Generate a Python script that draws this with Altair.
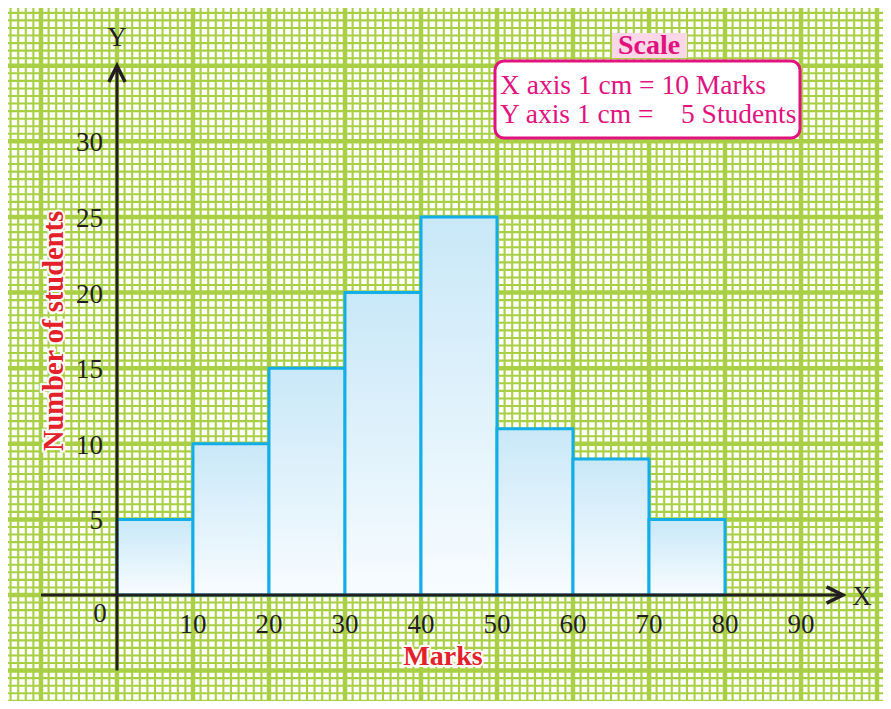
import altair as alt
import pandas as pd

# ---- data ----
bin_start = [0, 10, 20, 30, 40, 50, 60, 70]
bin_end = [10, 20, 30, 40, 50, 60, 70, 80]
students = [5, 10, 15, 20, 25, 11, 9, 5]
x_tick_labels = [10, 20, 30, 40, 50, 60, 70, 80, 90]
y_tick_labels = [5, 10, 15, 20, 25, 30]
scale_lines = ["X axis 1 cm = 10 Marks", "Y axis 1 cm =\u00a0\u00a0\u00a0 5 Students"]

W, H = 875, 693
X_DOM = [-14.34, 100.79]
Y_DOM = [-7.01, 38.82]
xs = alt.Scale(domain=X_DOM, nice=False, zero=False)
ys = alt.Scale(domain=Y_DOM, nice=False, zero=False)

GREEN = "#a9d045"
FONT = "Liberation Serif"
MAG = "#e2127f"
RED = "#e4202a"
INK = "#231f20"
ONE = alt.Data(values=[{"a": 1}])

# graph-paper grid
minor_x = pd.DataFrame({"v": list(range(-14, 101))})
minor_y = pd.DataFrame({"v": [i / 2 for i in range(-14, 78)]})
major_x = pd.DataFrame({"v": list(range(-10, 101, 10))})
major_y = pd.DataFrame({"v": list(range(-5, 39, 5))})

g1 = alt.Chart(minor_x).mark_rule(color=GREEN, strokeWidth=2.1).encode(
    x=alt.X("v:Q", scale=xs, axis=None))
g2 = alt.Chart(minor_y).mark_rule(color=GREEN, strokeWidth=2.1).encode(
    y=alt.Y("v:Q", scale=ys, axis=None))
g3 = alt.Chart(major_x).mark_rule(color=GREEN, strokeWidth=4.5).encode(
    x=alt.X("v:Q", scale=xs, axis=None))
g4 = alt.Chart(major_y).mark_rule(color=GREEN, strokeWidth=4.5).encode(
    y=alt.Y("v:Q", scale=ys, axis=None))

bars_df = pd.DataFrame({"start": bin_start, "end": bin_end, "students": students,
                        "base": [0] * len(students)})
bars = alt.Chart(bars_df).mark_rect(
    fill=alt.Gradient(gradient="linear", x1=0, y1=0, x2=0, y2=1,
                      stops=[alt.GradientStop(color="#c9e8f8", offset=0),
                             alt.GradientStop(color="#f8fcff", offset=1)]),
    stroke="#13ade8", strokeWidth=3,
).encode(
    x=alt.X("start:Q", scale=xs, axis=None), x2="end:Q",
    y=alt.Y("students:Q", scale=ys, axis=None), y2="base:Q",
)

# axis lines with arrows
xaxis_df = pd.DataFrame({"x": [-10], "x2": [95.3], "y": [0]})
yaxis_df = pd.DataFrame({"x": [0], "y": [-5], "y2": [34.8]})
xaxis = alt.Chart(xaxis_df).mark_rule(color=INK, strokeWidth=3).encode(
    x=alt.X("x:Q", scale=xs, axis=None), x2="x2:Q", y=alt.Y("y:Q", scale=ys, axis=None))
yaxis = alt.Chart(yaxis_df).mark_rule(color=INK, strokeWidth=3).encode(
    x=alt.X("x:Q", scale=xs, axis=None), y=alt.Y("y:Q", scale=ys, axis=None), y2="y2:Q")
xarrow = alt.Chart(pd.DataFrame({"x": [95.5], "y": [0]})).mark_point(
    shape="M -1 -0.5 L 0 0 L -1 0.5", size=1050, filled=False,
    stroke=INK, strokeWidth=3.5, opacity=1).encode(
    x=alt.X("x:Q", scale=xs, axis=None), y=alt.Y("y:Q", scale=ys, axis=None))
yarrow = alt.Chart(pd.DataFrame({"x": [0], "y": [35]})).mark_point(
    shape="M -0.5 1 L 0 0 L 0.5 1", size=1050, filled=False,
    stroke=INK, strokeWidth=3.5, opacity=1).encode(
    x=alt.X("x:Q", scale=xs, axis=None), y=alt.Y("y:Q", scale=ys, axis=None))

# tick labels
xt = alt.Chart(pd.DataFrame({"v": x_tick_labels})).mark_text(
    font=FONT, fontSize=27, color=INK, align="center", baseline="middle").encode(
    x=alt.X("v:Q", scale=xs, axis=None), y=alt.value(617), text="v:Q")
yt = alt.Chart(pd.DataFrame({"v": y_tick_labels})).mark_text(
    font=FONT, fontSize=27, color=INK, align="right", baseline="middle", dy=2).encode(
    y=alt.Y("v:Q", scale=ys, axis=None), x=alt.value(95), text="v:Q")

def label(txt, x, y, **kw):
    return alt.Chart(ONE).mark_text(text=txt, font=FONT, align="center",
                                    baseline="middle", **kw).encode(
        x=alt.value(x), y=alt.value(y))

zero = label("0", 92, 606, fontSize=27, color=INK)
xl = label("X", 854, 589, fontSize=27, color=INK)
yl = label("Y", 109, 30, fontSize=27, color=INK)

# axis titles (red, bold, white outline)
xtitle_h = label("Marks", 435, 649, fontSize=28, fontWeight="bold",
                 fill="white", stroke="white", strokeWidth=4)
xtitle = label("Marks", 435, 649, fontSize=28, fontWeight="bold", color=RED)
ytitle_h = label("Number of students", 46, 323, fontSize=28.5, fontWeight="bold",
                 angle=270, fill="white", stroke="white", strokeWidth=4)
ytitle = label("Number of students", 46, 323, fontSize=28.5, fontWeight="bold",
               angle=270, color=RED)

# scale box
pink = alt.Chart(ONE).mark_rect(fill="#fbd8e8").encode(
    x=alt.value(604), x2=alt.value(679), y=alt.value(25), y2=alt.value(50))
scale_t = label("Scale", 641, 38, fontSize=28, fontWeight="bold", color=MAG)
box = alt.Chart(ONE).mark_rect(fill="white", stroke=MAG, strokeWidth=3, cornerRadius=9).encode(
    x=alt.value(487), x2=alt.value(792), y=alt.value(53), y2=alt.value(130))
line1 = alt.Chart(ONE).mark_text(text=scale_lines[0], font=FONT, fontSize=27.5, color=MAG,
                                 align="left", baseline="middle").encode(
    x=alt.value(492), y=alt.value(78))
line2 = alt.Chart(ONE).mark_text(text=scale_lines[1], font=FONT, fontSize=27.5, color=MAG,
                                 align="left", baseline="middle").encode(
    x=alt.value(492), y=alt.value(107))

chart = alt.layer(
    g1, g2, g3, g4, bars, xaxis, yaxis, xarrow, yarrow,
    xt, yt, zero, xl, yl, xtitle_h, xtitle, ytitle_h, ytitle,
    pink, box, scale_t, line1, line2,
).properties(
    width=W, height=H, padding=0, autosize=alt.AutoSizeParams(type="none"),
    background="white",
).configure_view(stroke=None)

chart.save("out.html", embed_options={"renderer": "svg", "actions": False})
